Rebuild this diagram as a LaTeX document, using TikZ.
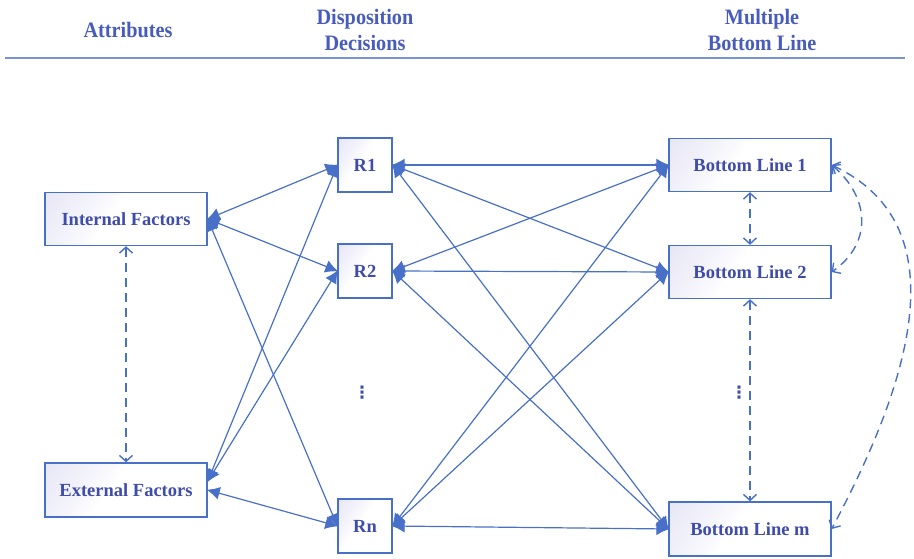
\documentclass[tikz,border=0pt]{standalone}
\usepackage{fontspec}
\setmainfont{Liberation Serif}
\newfontfamily\headfont[FakeStretch=0.92]{Liberation Serif}
\newfontfamily\symfont{DejaVu Sans}
\usetikzlibrary{arrows.meta,calc}

\definecolor{headblue}{RGB}{72,92,190}
\definecolor{rulblue}{RGB}{120,148,212}
\definecolor{edgeblue}{RGB}{72,112,200}
\definecolor{textblue}{RGB}{62,76,170}
\definecolor{boxlav}{RGB}{220,218,240}
\definecolor{boxmid}{RGB}{246,246,252}

% soft tint fading out from one corner of a box
\pgfdeclarehorizontalshading{cornerfade}{100bp}{color(0bp)=(boxlav); color(36bp)=(boxmid); color(44bp)=(white); color(100bp)=(white)}

\tikzset{
  header/.style={font=\headfont\bfseries\fontsize{22}{26}\selectfont, text=headblue, align=center},
  box/.style={draw=edgeblue, line width=1.3pt, fill=white,
    font=\bfseries\fontsize{18.5}{20}\selectfont, text=textblue,
    path picture={\shade[shading=cornerfade, shading angle=-35]
      (path picture bounding box.south west) rectangle (path picture bounding box.north east);}},
  wbox/.style={box, minimum width=162pt, minimum height=53pt},
  rbox/.style={box, minimum width=54pt, minimum height=54pt},
  link/.style={draw=edgeblue, line width=1.2pt, {Latex[length=13pt,width=13pt]}-{Latex[length=13pt,width=13pt]}, shorten <=-1pt, shorten >=-1pt},
  dlink/.style={draw=edgeblue, line width=1.4pt, dash pattern=on 9pt off 6pt,
    {Straight Barb[length=6pt,width=13pt]}-{Straight Barb[length=6pt,width=13pt]}},
  vdots/.style={text=textblue, font=\symfont\bfseries\fontsize{17}{17}\selectfont}
}

\begin{document}
\begin{tikzpicture}[x=1pt,y=-1pt]
\useasboundingbox (0,0) rectangle (914,559);

% column headings and rule
\node[header] (hA) at (128,30) {Attributes};
\node[header] (hD) at (365,30) {Disposition\\Decisions};
\node[header] (hM) at (762,30) {Multiple\\Bottom Line};
\coordinate (ruleL) at (5,58);
\coordinate (ruleR) at (905,58);
\draw[rulblue, line width=1.8pt] (ruleL) -- (ruleR);

% attribute boxes
\node[wbox] (IF) at (126,219) {Internal Factors};
\node[wbox, minimum height=54pt] (EF) at (126,490) {External Factors};

% decision boxes
\node[rbox] (R1) at (365,165) {R1};
\node[rbox] (R2) at (365,271) {R2};
\node[rbox] (Rn) at (365,526) {Rn};
\node[vdots] (rdots) at (362,393) {⋮};

% bottom line boxes
\node[wbox] (B1) at (750,165) {Bottom Line 1};
\node[wbox] (B2) at (750,272) {Bottom Line 2};
\node[wbox, minimum height=54pt] (Bm) at (750,529) {Bottom Line m};
\node[vdots] (bdots) at (739,393) {⋮};

% attributes <-> decisions
\foreach \r in {R1,R2,Rn} \draw[link] (IF.east) -- (\r.west);
\draw[link] (EF.6) -- (R1.west);
\draw[link] (EF.6) -- (R2.west);
\draw[link] (EF.east) -- (Rn.west);

% decisions <-> bottom lines
\foreach \r in {R1,R2,Rn}
  \foreach \b in {B1,B2,Bm}
    \draw[link] (\r.east) -- (\b.west);

% dashed interactions
\draw[dlink] (IF.south) -- (EF.north);
\draw[dlink] (B1.south) -- (B2.north);
\draw[dlink] (B2.south) -- (Bm.north);
\draw[dlink] (B1.east) to[out=-40,in=35,looseness=1.2] (B2.east);
\draw[dlink] (B1.east) to[out=-25,in=62,looseness=1.05] (Bm.east);
\end{tikzpicture}
\end{document}
